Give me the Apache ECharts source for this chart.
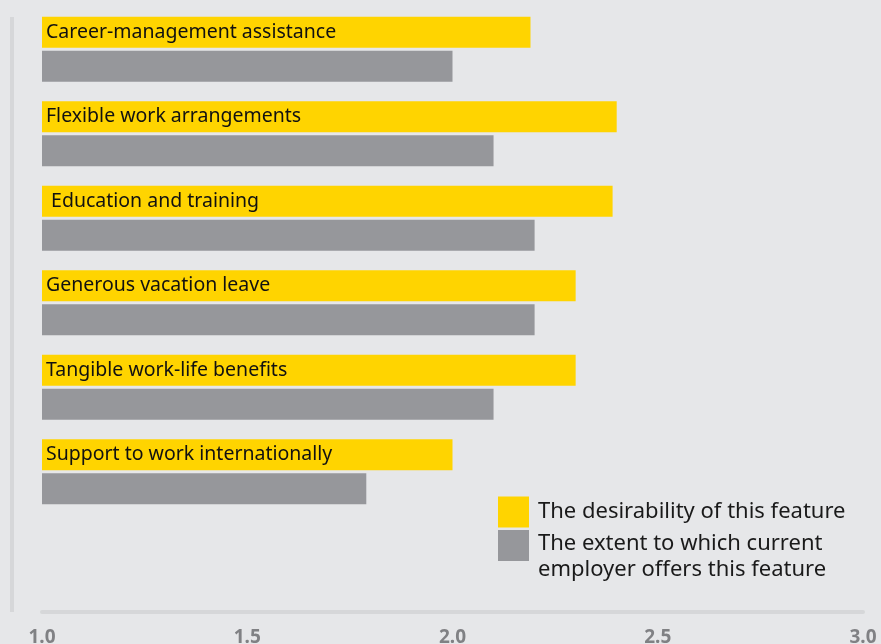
<!DOCTYPE html>
<html>
<head>
<meta charset="utf-8">
<script src="https://cdn.jsdelivr.net/npm/echarts@6/dist/echarts.min.js"></script>
<style>
  html, body { margin: 0; padding: 0; background: #e6e7e9; }
  #chart { width: 881px; height: 644px; }
</style>
</head>
<body>
<div id="chart"></div>
<script>
// Workplace features: how desirable each one is vs. how far the current employer offers it
const categories = [
  'Career-management assistance',
  'Flexible work arrangements',
  ' Education and training',
  'Generous vacation leave',
  'Tangible work-life benefits',
  'Support to work internationally'
];
const desirability = [2.19, 2.40, 2.39, 2.30, 2.30, 2.00];
const employerOffers = [2.00, 2.10, 2.20, 2.20, 2.10, 1.79];
const seriesNames = [
  'The desirability of this feature',
  'The extent to which current\nemployer offers this feature'
];
const tickValues = [1.0, 1.5, 2.0, 2.5, 3.0];

const FONT = '"Noto Sans", sans-serif';
const YELLOW = '#ffd400';
const GREY = '#96979b';

const legendText = {
  fontFamily: FONT,
  fontSize: 22,
  color: '#1a1a1a',
  lineHeight: 26
};

const chart = echarts.init(document.getElementById('chart'), null, { renderer: 'canvas' });

chart.setOption({
  backgroundColor: '#e6e7e9',
  animation: false,
  grid: { left: 42, right: 18, top: 7, bottom: 130, outerBoundsMode: 'none', containLabel: false },
  graphic: [{
    // thin frame rule on the left edge
    type: 'rect',
    left: 10, top: 17,
    shape: { width: 4, height: 595 },
    style: { fill: '#d6d7d9' },
    silent: true
  }],
  legend: [
    {
      left: 498,
      top: 493,
      padding: 0,
      itemWidth: 31,
      itemHeight: 31,
      icon: 'rect',
      selectedMode: false,
      data: [seriesNames[0]],
      textStyle: Object.assign({}, legendText, { padding: [0, 0, 12, 4] })
    },
    {
      // square sits at the top of a taller slot so the two text lines hang below it
      left: 498,
      top: 530,
      padding: 0,
      itemWidth: 31,
      itemHeight: 54,
      icon: 'path://M0,0L31,0L31,31L0,31Z M0,54L0.5,54L0.5,53.95Z',
      selectedMode: false,
      data: [seriesNames[1]],
      textStyle: Object.assign({}, legendText, { padding: [0, 0, 0, 4] })
    }
  ],
  xAxis: {
    type: 'value',
    min: tickValues[0],
    max: tickValues[tickValues.length - 1],
    interval: 0.5,
    startValue: tickValues[0],
    offset: 98,
    axisLine: { show: true, lineStyle: { color: '#d6d7d9', width: 4 } },
    axisTick: { show: false },
    splitLine: { show: false },
    axisLabel: {
      margin: 16,
      fontFamily: FONT,
      fontSize: 19,
      fontWeight: 'bold',
      color: '#808184',
      formatter: v => v.toFixed(1)
    }
  },
  yAxis: {
    type: 'category',
    data: categories,
    inverse: true,
    show: false
  },
  series: [
    {
      name: seriesNames[0],
      type: 'bar',
      data: desirability,
      barWidth: 31,
      barGap: '10%',
      itemStyle: { color: YELLOW },
      label: {
        show: true,
        position: 'insideLeft',
        distance: 4,
        fontFamily: FONT,
        fontSize: 19.5,
        color: '#111',
        formatter: p => categories[p.dataIndex]
      }
    },
    {
      name: seriesNames[1],
      type: 'bar',
      data: employerOffers,
      barWidth: 31,
      barGap: '10%',
      itemStyle: { color: GREY }
    }
  ]
});
</script>
</body>
</html>
